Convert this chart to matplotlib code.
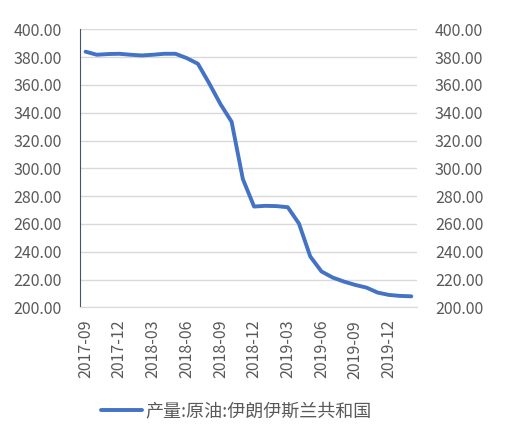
import matplotlib
matplotlib.use("Agg")
import matplotlib.pyplot as plt

plt.rcParams['font.family'] = ['Noto Sans CJK SC', 'DejaVu Sans']

# monthly crude oil output, 2017-09 .. 2020-02
months = ['2017-09', '2017-10', '2017-11', '2017-12', '2018-01', '2018-02',
          '2018-03', '2018-04', '2018-05', '2018-06', '2018-07', '2018-08',
          '2018-09', '2018-10', '2018-11', '2018-12', '2019-01', '2019-02',
          '2019-03', '2019-04', '2019-05', '2019-06', '2019-07', '2019-08',
          '2019-09', '2019-10', '2019-11', '2019-12', '2020-01', '2020-02']
output = [383.9, 381.7, 382.2, 382.4, 381.7, 381.2,
          381.7, 382.4, 382.4, 379.3, 375.2, 361.2,
          346.3, 333.5, 292.3, 272.5, 273.0, 272.8,
          272.0, 260.2, 236.6, 225.8, 221.4, 218.5,
          216.1, 214.2, 210.6, 208.9, 208.2, 207.9]
series_name = '产量:原油:伊朗伊斯兰共和国'
yticks = [200, 220, 240, 260, 280, 300, 320, 340, 360, 380, 400]

fig = plt.figure(figsize=(5.2, 4.33), dpi=100)
ax = fig.add_axes([0.1538, 0.2903, 0.648, 0.642])

x = list(range(len(months)))
line, = ax.plot(x, output, color='#4472C4', lw=2.8, label=series_name,
                solid_joinstyle='round', solid_capstyle='round', zorder=3)

ax.set_xlim(-0.5, len(months) - 0.5)
ax.set_ylim(200, 400)
ax.set_yticks(yticks)
ax.set_yticklabels(['%.2f' % v for v in yticks])
ax.set_xticks(x[::3])
ax.set_xticklabels(months[::3], rotation=90)
ax.grid(axis='y', color='#D9D9D9', lw=1)
ax.set_axisbelow(True)

for s in ['top', 'right']:
    ax.spines[s].set_visible(False)
ax.spines['left'].set_color('#44546A')
ax.spines['bottom'].set_color('#D9D9D9')
ax.tick_params(axis='both', length=0, labelsize=11.5, labelcolor='#595959')
ax.tick_params(axis='y', pad=13)
ax.tick_params(axis='x', pad=9)

ax2 = ax.twinx()
ax2.set_ylim(200, 400)
ax2.set_yticks(yticks)
ax2.set_yticklabels(['%.2f' % v for v in yticks])
for s in ax2.spines.values():
    s.set_visible(False)
ax2.tick_params(axis='y', length=0, labelsize=11.5, labelcolor='#595959', pad=13)

fig.legend(handles=[line], loc='center', bbox_to_anchor=(0.454, 0.049),
           frameon=False, fontsize=13, handlelength=2.3, handletextpad=0.15,
           labelcolor='#595959')

fig.savefig('out.png', dpi=100)
